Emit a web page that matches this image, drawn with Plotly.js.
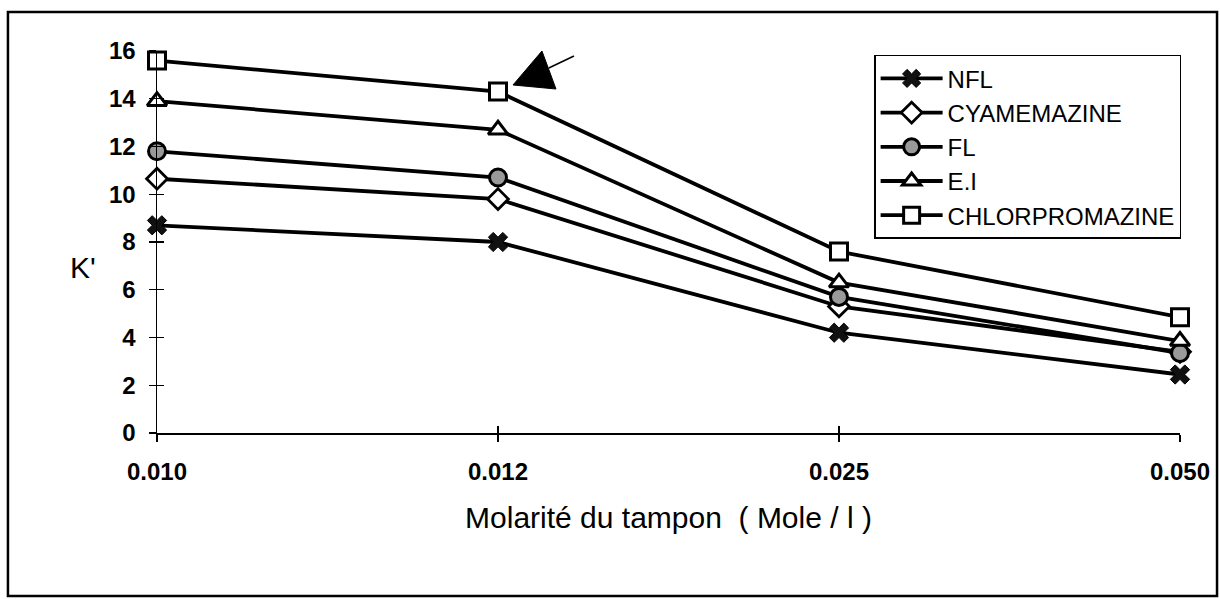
<!DOCTYPE html>
<html>
<head>
<meta charset="utf-8">
<script src="https://cdn.plot.ly/plotly-3.0.1.min.js"></script>
<style>
html,body{margin:0;padding:0;background:#fff;}
#chart{width:1220px;height:599px;}
</style>
</head>
<body>
<div id="chart"></div>
<script>
// Data
const categories = ["0.010", "0.012", "0.025", "0.050"];
const seriesNames = ["NFL", "CYAMEMAZINE", "FL", "E.I", "CHLORPROMAZINE"];
const NFL = [8.7, 8.0, 4.2, 2.45];
const CYAMEMAZINE = [10.65, 9.8, 5.3, 3.4];
const FL = [11.8, 10.7, 5.7, 3.35];
const EI = [13.9, 12.7, 6.3, 3.85];
const CHLORPROMAZINE = [15.6, 14.3, 7.6, 4.85];
const yTicks = [0, 2, 4, 6, 8, 10, 12, 14, 16];
const yLabel = "K'";
const xLabel = "Molarité du tampon  ( Mole / l )";

const FONT = "Liberation Sans, Arial, sans-serif";
const lineStyle = {color: "#000", width: 3.8};

const markers = [
  {symbol: "x", size: 17, color: "#111", line: {color: "#000", width: 1}},
  {symbol: "diamond", size: 16, color: "#fff", line: {color: "#000", width: 2.8}},
  {symbol: "circle", size: 17, color: "#9a9a9a", line: {color: "#000", width: 3}},
  {symbol: "triangle-up", size: 17, color: "#fff", line: {color: "#000", width: 3}},
  {symbol: "square", size: 17, color: "#fff", line: {color: "#000", width: 3}}
];
const values = [NFL, CYAMEMAZINE, FL, EI, CHLORPROMAZINE];

const traces = values.map((v, i) => ({
  type: "scatter",
  mode: "lines+markers",
  name: seriesNames[i],
  x: categories,
  y: v,
  line: lineStyle,
  marker: markers[i],
  cliponaxis: false
}));
// invisible trace so the overlay axes (cross ticks) are drawn
traces.push({type: "scatter", x: categories, y: [0,0,0,0], xaxis: "x2", yaxis: "y2",
  mode: "markers", marker: {opacity: 0}, showlegend: false, hoverinfo: "skip"});

const layout = {
  width: 1220,
  height: 599,
  margin: {l: 157, r: 40, t: 51, b: 166},
  paper_bgcolor: "#fff",
  plot_bgcolor: "#fff",
  showlegend: true,
  font: {family: FONT, color: "#000"},
  xaxis: {
    type: "category",
    range: [0, 3],
    showgrid: false,
    zeroline: false,
    showline: true,
    linecolor: "#000",
    linewidth: 1.5,
    ticks: "outside",
    ticklen: 7,
    tickwidth: 1.2,
    tickcolor: "#000",
    ticklabelstandoff: 10,
    tickfont: {family: FONT, size: 24, weight: "bold"},
    title: {text: xLabel, font: {family: FONT, size: 30}, standoff: 22}
  },
  yaxis: {
    range: [0, 16],
    tickvals: yTicks,
    showgrid: false,
    zeroline: false,
    showline: true,
    linecolor: "#000",
    linewidth: 1.5,
    ticks: "outside",
    ticklen: 7,
    tickwidth: 1.2,
    tickcolor: "#000",
    ticklabelstandoff: 8,
    tickfont: {family: FONT, size: 24, weight: "bold"}
  },
  xaxis2: {type: "category", range: [0, 3], overlaying: "x", anchor: "y2",
    showgrid: false, zeroline: false, showline: false, showticklabels: false,
    ticks: "inside", ticklen: 7, tickwidth: 1.2, tickcolor: "#000"},
  yaxis2: {range: [0, 16], tickvals: yTicks, overlaying: "y", anchor: "x2",
    showgrid: false, zeroline: false, showline: false, showticklabels: false,
    ticks: "inside", ticklen: 7, tickwidth: 1.2, tickcolor: "#000"},
  legend: {
    x: 0.701, y: 0.99, xanchor: "left", yanchor: "top",
    bgcolor: "#fff",
    bordercolor: "#000",
    borderwidth: 1.5,
    itemwidth: 62,
    font: {family: FONT, size: 24},
    tracegroupgap: 0
  },
  annotations: [
    {text: yLabel, xref: "paper", yref: "paper", x: -0.0723, y: 0.432,
     xanchor: "center", yanchor: "middle", showarrow: false,
     font: {family: FONT, size: 30, color: "#000"}}
  ],
  shapes: [
    // outer chart frame
    {type: "rect", xref: "paper", yref: "paper", x0: -0.1457, x1: 1.0362, y0: -0.427, y1: 1.102,
     line: {color: "#000", width: 2.5}, fillcolor: "rgba(0,0,0,0)"},
    // filled arrow-head marker in the top area
    {type: "path", xref: "paper", yref: "paper",
     path: "M 0.3763 1.0 L 0.348 0.911 L 0.390 0.9005 Z",
     fillcolor: "#000", line: {color: "#000", width: 1}},
    {type: "line", xref: "paper", yref: "paper", x0: 0.383, y0: 0.9555, x1: 0.4076, y1: 0.987,
     line: {color: "#000", width: 1.5}}
  ]
};

Plotly.newPlot("chart", traces, layout, {displayModeBar: false, staticPlot: true});
</script>
</body>
</html>
